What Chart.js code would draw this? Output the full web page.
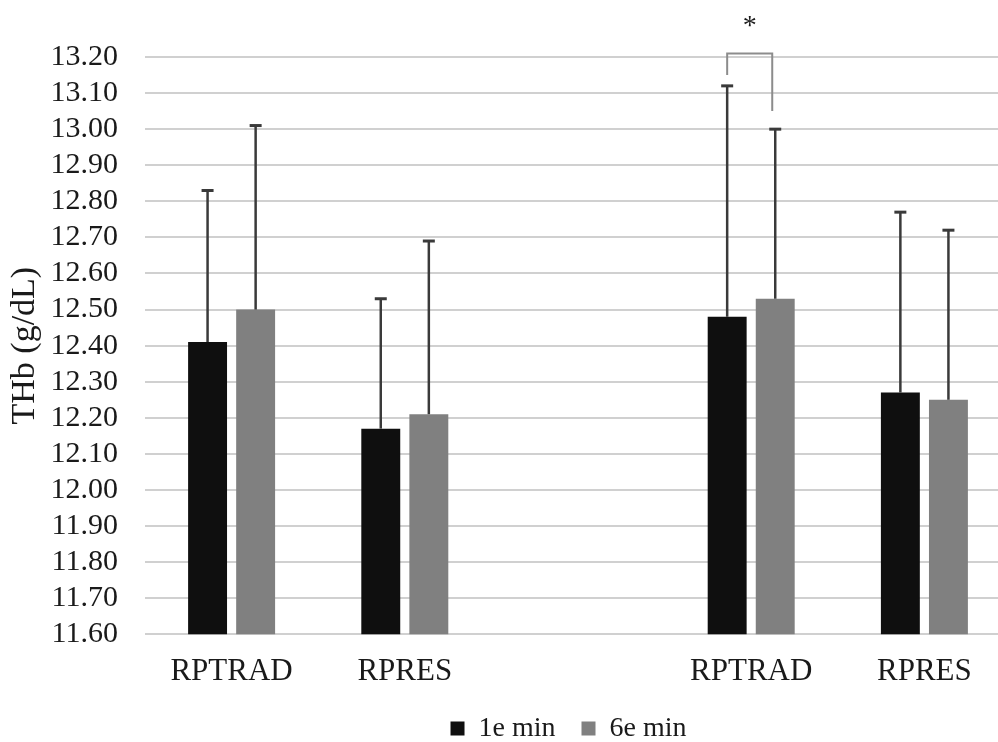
<!DOCTYPE html>
<html>
<head>
<meta charset="utf-8">
<title>THb (g/dL)</title>
<script src="https://cdn.jsdelivr.net/npm/chart.js@4/dist/chart.umd.min.js"></script>
<style>
  html, body { margin: 0; padding: 0; background: #ffffff; overflow: hidden; }
  #wrap { width: 1011px; height: 742px; }
</style>
</head>
<body>
<div id="wrap"><canvas id="c" width="1011" height="742"></canvas></div>
<script>
// Category labels (the empty entry separates the two groups)
const categories = ['RPTRAD', 'RPRES', '', 'RPTRAD', 'RPRES'];
const seriesNames = ['1e min', '6e min'];

// Mean THb per group
const min1 = [12.41, 12.17, null, 12.48, 12.27];
const min6 = [12.50, 12.21, null, 12.53, 12.25];

// Standard deviations (drawn upward only)
const sd1 = [0.42, 0.36, null, 0.64, 0.50];
const sd6 = [0.51, 0.48, null, 0.47, 0.47];

// Value axis
const yMin = 11.60;
const yMax = 13.20;
const yStep = 0.10;

// Significance bracket between the two bars of one category (values in g/dL)
const sigIndex = 3;
const sigTop = 13.21;
const sigLeftEnd = 13.15;
const sigRightEnd = 13.05;
const sigLabel = '*';

const serif = "'Liberation Serif', 'Times New Roman', serif";
const textColor = '#1a1a1a';
const barColors = ['#0f0f0f', '#808080'];
const errors = [sd1, sd6];

const errorBars = {
  id: 'errorBars',
  afterDatasetsDraw(chart) {
    const ctx = chart.ctx;
    const y = chart.scales.y;
    ctx.save();
    ctx.strokeStyle = '#3a3a3a';
    chart.data.datasets.forEach((ds, i) => {
      const meta = chart.getDatasetMeta(i);
      meta.data.forEach((bar, j) => {
        const v = ds.data[j];
        const sd = errors[i][j];
        if (v == null || sd == null) return;
        const top = y.getPixelForValue(v + sd);
        ctx.lineWidth = 2.5;
        ctx.beginPath();
        ctx.moveTo(bar.x, bar.y);
        ctx.lineTo(bar.x, top);
        ctx.stroke();
        ctx.lineWidth = 3;
        ctx.beginPath();
        ctx.moveTo(bar.x - 6, top);
        ctx.lineTo(bar.x + 6, top);
        ctx.stroke();
      });
    });
    ctx.restore();
  }
};

const significance = {
  id: 'significance',
  afterDatasetsDraw(chart) {
    const ctx = chart.ctx;
    const y = chart.scales.y;
    const xl = chart.getDatasetMeta(0).data[sigIndex].x;
    const xr = chart.getDatasetMeta(1).data[sigIndex].x - 3;
    const yt = y.getPixelForValue(sigTop);
    ctx.save();
    ctx.strokeStyle = '#8c8c8c';
    ctx.lineWidth = 2;
    ctx.beginPath();
    ctx.moveTo(xl, y.getPixelForValue(sigLeftEnd));
    ctx.lineTo(xl, yt);
    ctx.lineTo(xr, yt);
    ctx.lineTo(xr, y.getPixelForValue(sigRightEnd));
    ctx.stroke();
    ctx.fillStyle = textColor;
    ctx.font = '28px ' + serif;
    ctx.textAlign = 'center';
    ctx.textBaseline = 'alphabetic';
    ctx.fillText(sigLabel, (xl + xr) / 2, yt - 19);
    ctx.restore();
  }
};

// Legend centred under the bars near the bottom edge; category labels get room below the axis
const placement = {
  id: 'placement',
  afterLayout(chart) {
    const lg = chart.legend;
    const h = lg.bottom - lg.top;
    lg.left = 139;
    lg.right = 998;
    lg.top = 688.5;
    lg.bottom = lg.top + h;
    chart.scales.x.bottom = chart.height;
  }
};

new Chart(document.getElementById('c'), {
  type: 'bar',
  data: {
    labels: categories,
    datasets: [
      { label: seriesNames[0], data: min1, backgroundColor: barColors[0], borderColor: barColors[0], borderWidth: 0 },
      { label: seriesNames[1], data: min6, backgroundColor: barColors[1], borderColor: barColors[1], borderWidth: 0 }
    ]
  },
  options: {
    responsive: false,
    animation: false,
    events: [],
    categoryPercentage: 0.555,
    barPercentage: 0.81,
    layout: { padding: { top: 57, right: 0, bottom: 0, left: 0 } },
    plugins: {
      tooltip: { enabled: false },
      legend: {
        position: 'bottom',
        labels: {
          boxWidth: 14,
          boxHeight: 14,
          padding: 26,
          color: textColor,
          font: { family: serif, size: 28 }
        }
      }
    },
    scales: {
      x: {
        grid: { display: false, drawTicks: false },
        border: { display: false },
        ticks: {
          color: textColor,
          font: { family: serif, size: 31 },
          padding: 19,
          maxRotation: 0,
          autoSkip: false
        },
        afterFit(scale) { scale.height = 43.7; }
      },
      y: {
        min: yMin,
        max: yMax,
        grid: { color: '#d0d0d0', lineWidth: 2, drawTicks: false },
        border: { display: false },
        ticks: {
          stepSize: yStep,
          autoSkip: false,
          color: textColor,
          font: { family: serif, size: 30 },
          padding: 27,
          callback: (v) => Number(v).toFixed(2)
        },
        title: {
          display: true,
          text: 'THb (g/dL)',
          color: textColor,
          font: { family: serif, size: 34 },
          padding: { top: 5, bottom: 0 }
        },
        afterFit(scale) { scale.width = 145; }
      }
    }
  },
  plugins: [errorBars, significance, placement]
});
</script>
</body>
</html>
